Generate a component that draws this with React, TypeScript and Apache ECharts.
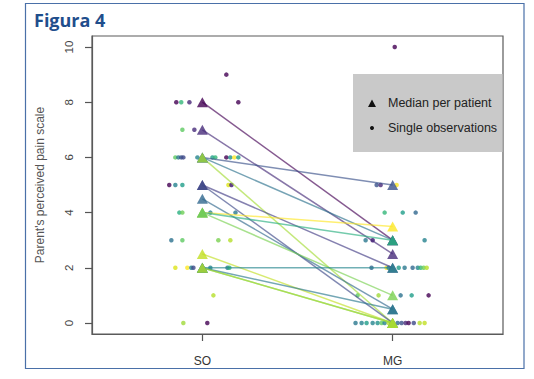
import React, { useEffect, useRef } from "react";
import * as echarts from "echarts";

// ---- data ----
const categories = ["SO", "MG"];
const yTicks = [0, 2, 4, 6, 8, 10];

// median per patient (SO -> MG)
const medianSO = [8, 7, 6, 6, 6, 5, 5, 4.5, 4, 4, 4, 2.5, 2, 2, 2, 2];
const medianMG = [3, 2.5, 5, 3, 0, 2, 0, 0.5, 3.5, 3, 1, 0, 2, 0, 0.5, 0];
const patientColors = [
  "#440154", "#472c7a", "#3b528b", "#2c728e", "#a5db36", "#433e85",
  "#3e4a89", "#31688e", "#fde725", "#29af7f", "#7ad151", "#c2df23",
  "#25858e", "#5ec962", "#2a788e", "#b5de2b",
];

// single observations, SO (jitter offset from category, value, colour)
const soJitter = [
  -0.137, -0.111, -0.068, 0.189,
  0.126,
  -0.105, -0.042,
  -0.142, -0.126, -0.111, -0.1, -0.026, 0.053, 0.068, 0.126, 0.147, 0.168, 0.189,
  -0.174, -0.142, -0.105, 0.137, 0.153,
  -0.121, -0.105, 0.042, 0.174,
  -0.163, -0.105, 0.084, 0.147,
  -0.142, -0.079, -0.058, -0.047, 0.042, 0.132, 0.142,
  0.058,
  -0.1, 0.026,
];
const soValues = [
  8, 8, 8, 8,
  9,
  7, 7,
  6, 6, 6, 6, 6, 6, 6, 6, 6, 6, 6,
  5, 5, 5, 5, 5,
  4, 4, 4, 4,
  3, 3, 3, 3,
  2, 2, 2, 2, 2, 2, 2,
  1,
  0, 0,
];
const soColors = [
  "#440154", "#35b779", "#482878", "#440154",
  "#440154",
  "#5ec962", "#472c7a",
  "#5ec962", "#2a788e", "#3b528b", "#3e4a89", "#25858e", "#1f9e89", "#35b779", "#440154", "#21918c", "#fde725", "#1f9e89",
  "#440154", "#26828e", "#1f9e89", "#dde318", "#3b0f70",
  "#29af7f", "#6ece58", "#26828e", "#2a788e",
  "#2c728e", "#5ec962", "#7ad151", "#b5de2b",
  "#dde318", "#fde725", "#26828e", "#3e4a89", "#25858e", "#2a788e", "#35b779",
  "#b5de2b",
  "#a0da39", "#440154",
];

// single observations, MG
const mgJitter = [
  0.011,
  -0.084, -0.063, 0.021,
  -0.042, 0.053, 0.121,
  -0.142, -0.105, 0.168,
  -0.111, -0.032, -0.021, 0.032, 0.063, 0.105, 0.132, 0.147, 0.163, 0.179,
  -0.184, -0.074, 0.042, 0.1, 0.189,
  -0.195, -0.163, -0.137, -0.105, -0.079, -0.058, -0.042, -0.021, 0.026, 0.047, 0.068, 0.084, 0.111, 0.142, 0.168,
];
const mgValues = [
  10,
  5, 5, 5,
  4, 4, 4,
  3, 3, 3,
  2, 2, 2, 2, 2, 2, 2, 2, 2, 2,
  1, 1, 1, 1, 1,
  0, 0, 0, 0, 0, 0, 0, 0, 0, 0, 0, 0, 0, 0, 0,
];
const mgColors = [
  "#440154",
  "#3b528b", "#482878", "#fde725",
  "#35b779", "#1f9e89", "#31688e",
  "#2a788e", "#3b0f70", "#26828e",
  "#31688e", "#fde725", "#26828e", "#1f9e89", "#2a788e", "#31688e", "#26828e", "#35b779", "#6ece58", "#b5de2b",
  "#5ec962", "#a0da39", "#2c728e", "#1f9e89", "#440154",
  "#2a788e", "#26828e", "#1f9e89", "#25858e", "#21918c", "#5ec962", "#26828e", "#b5de2b", "#31688e", "#3b528b", "#482878", "#440154", "#3e4a89", "#b5de2b", "#c2df23",
];

const legendLabels = ["Median per patient", "Single observations"];

export default function App() {
  const ref = useRef<HTMLDivElement>(null);

  useEffect(() => {
    if (!ref.current) return;
    const chart = echarts.init(ref.current, null, { renderer: "svg" });
    const font = "'Liberation Sans', Arial, sans-serif";

    const dots = [
      ...soJitter.map((j, i) => ({
        value: [1 + j, soValues[i]],
        itemStyle: { color: soColors[i] },
      })),
      ...mgJitter.map((j, i) => ({
        value: [2 + j, mgValues[i]],
        itemStyle: { color: mgColors[i] },
      })),
    ];

    const lineSeries = medianSO.map((v, i) => ({
      type: "line",
      data: [
        [1, v],
        [2, medianMG[i]],
      ],
      symbol: "none",
      z: 3,
      silent: true,
      lineStyle: { color: patientColors[i], width: 1.5, opacity: 0.65 },
    }));

    const triSO = medianSO.map((v, i) => ({
      value: [1, v],
      itemStyle: { color: patientColors[i] },
    }));
    const triMG = medianMG.map((v, i) => ({
      value: [2, v],
      itemStyle: { color: patientColors[i] },
    }));

    const axisLineStyle = { color: "#5a5a5a", width: 1.2 };

    chart.setOption({
      animation: false,
      backgroundColor: "#ffffff",
      grid: {
        left: 92,
        right: 31,
        top: 36,
        bottom: 45,
        show: true,
        borderColor: "#5a5a5a",
        borderWidth: 1.2,
        backgroundColor: "transparent",
      },
      xAxis: {
        type: "value",
        position: "bottom",
        min: 0.42,
        max: 2.58,
        axisLine: { show: true, onZero: false, lineStyle: axisLineStyle },
        splitLine: { show: false },
        axisTick: {
          show: true,
          length: 7,
          customValues: [1, 2],
          lineStyle: { color: "#555", width: 1.2 },
        },
        axisLabel: {
          customValues: [1, 2],
          formatter: (v: number) => categories[Math.round(v) - 1] ?? "",
          margin: 21,
          fontSize: 12,
          color: "#333",
          fontFamily: font,
        },
      },
      yAxis: {
        type: "value",
        position: "left",
        min: -0.4,
        max: 10.4,
        name: "Parent's perceived pain scale",
        nameLocation: "middle",
        nameGap: 46,
        nameTextStyle: { fontSize: 12, color: "#555", fontFamily: font },
        axisLine: { show: true, onZero: false, lineStyle: axisLineStyle },
        splitLine: { show: false },
        axisTick: {
          show: true,
          length: 7,
          customValues: yTicks,
          lineStyle: { color: "#555", width: 1.2 },
        },
        axisLabel: {
          customValues: yTicks,
          rotate: 90,
          margin: 17,
          fontSize: 11.5,
          color: "#444",
          fontFamily: font,
        },
      },
      series: [
        {
          type: "scatter",
          data: dots,
          symbol: "circle",
          symbolSize: 4.5,
          z: 2,
          silent: true,
        },
        ...lineSeries,
        {
          type: "scatter",
          data: [...triSO, ...triMG],
          symbol: "triangle",
          symbolSize: [11, 10],
          z: 4,
          silent: true,
        },
      ],
      graphic: [
        {
          type: "rect",
          shape: { x: 25.5, y: 3.5, width: 498.5, height: 365 },
          style: { fill: "none", stroke: "#4a70a8", lineWidth: 1.2 },
          z: 10,
        },
        {
          type: "text",
          x: 34,
          y: 11,
          style: {
            text: "Figura 4",
            font: "bold 18px 'Open Sans', 'Noto Sans', sans-serif",
            fill: "#1f4e8c",
          },
          z: 10,
        },
        {
          type: "rect",
          shape: { x: 353, y: 74, width: 149.5, height: 78 },
          style: { fill: "#c9c9c9" },
          z: 10,
        },
        {
          type: "polygon",
          shape: { points: [[368, 107], [376, 107], [372, 99.5]] },
          style: { fill: "#111" },
          z: 11,
        },
        {
          type: "circle",
          shape: { cx: 372, cy: 128, r: 2 },
          style: { fill: "#111" },
          z: 11,
        },
        {
          type: "text",
          x: 388,
          y: 103,
          style: {
            text: legendLabels[0],
            font: `12.5px ${font}`,
            fill: "#222",
            verticalAlign: "middle",
          },
          z: 11,
        },
        {
          type: "text",
          x: 388,
          y: 128,
          style: {
            text: legendLabels[1],
            font: `12.5px ${font}`,
            fill: "#222",
            verticalAlign: "middle",
          },
          z: 11,
        },
      ],
    });

    return () => chart.dispose();
  }, []);

  return (
    <div
      ref={ref}
      style={{ position: "absolute", left: 0, top: 0, width: 534, height: 379 }}
    />
  );
}
